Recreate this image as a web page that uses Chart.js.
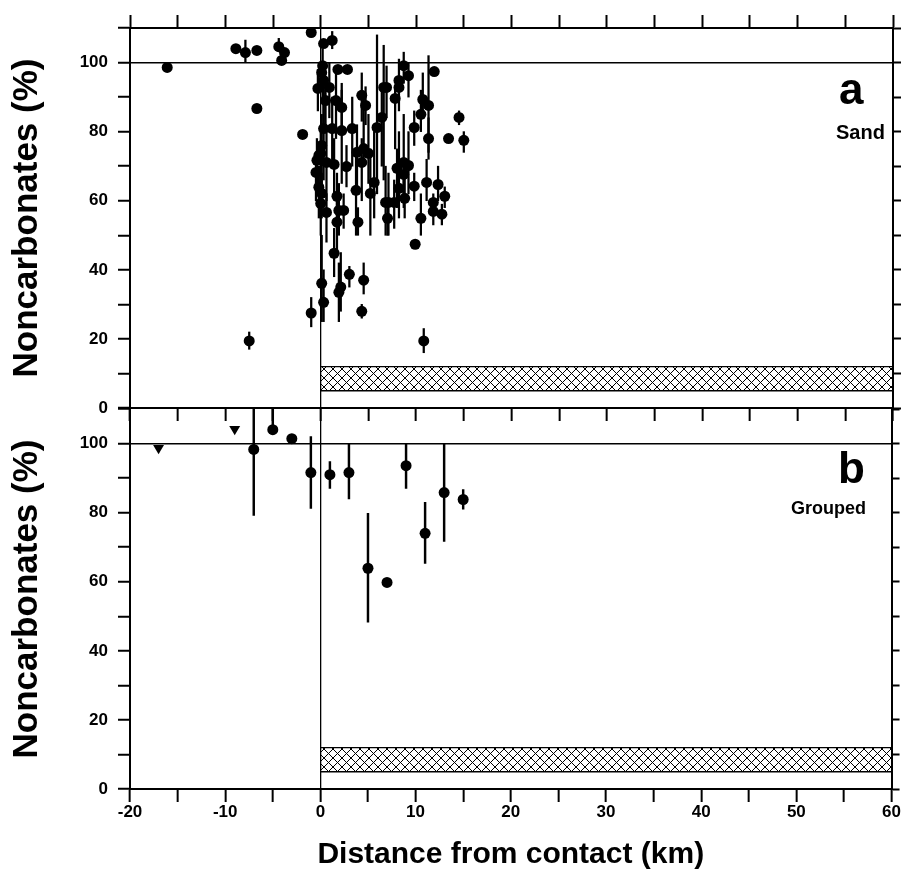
<!DOCTYPE html>
<html lang="en">
<head>
<meta charset="UTF-8">
<title>Noncarbonates vs distance from contact</title>
<script src="https://cdn.jsdelivr.net/npm/chart.js"></script>
<style>
  body { margin: 0; background: #fff; font-family: 'Liberation Sans', Arial, sans-serif; }
  #wrap { position: relative; width: 901px; height: 879px; overflow: hidden; background: #fff; }
  canvas { position: absolute; left: 0; }
  #topChart { top: 0; }
  #bottomChart { top: 380px; }
  .tag { position: absolute; font-weight: bold; line-height: 1; color: #000; white-space: nowrap; }
</style>
</head>
<body>
<div id="wrap">
  <canvas id="topChart" width="901" height="430"></canvas>
  <canvas id="bottomChart" width="901" height="499"></canvas>
  <div class="tag" style="left:839px;top:67px;font-size:44px">a</div>
  <div class="tag" style="left:836px;top:122px;font-size:20px">Sand</div>
  <div class="tag" style="left:838px;top:446px;font-size:44px">b</div>
  <div class="tag" style="left:791px;top:499px;font-size:18px">Grouped</div>
</div>

<script>
// panel a: sand samples (km from contact, % noncarbonates, error bar ends; null = no bar)
const sandKm  = [-16.1, -8.9, -7.9, -6.7, -4.4, -4.1, -3.8, -6.7, -1.9, -7.5,
                 -1.0, -1.0, 0.3, 1.2, 0.2, 0.1, 0.3, -0.3, 0.9, 1.8,
                 2.8, 0.5, 1.6, 2.2, 4.3, 4.7, 6.6, 6.4, 5.9, 8.7,
                 9.2, 8.2, 8.2, 6.9, 11.9, 7.8, 10.7, 11.3, 10.5, 14.5,
                 9.8, 0.3, 1.2, 2.2, 3.3, 0.1, -0.4, 0.6, 1.4, 2.7,
                 -0.5, 3.8, 4.5, 5.0, 4.3, -0.2, 0.1, 1.7, 3.7, 5.6,
                 5.2, 0.0, 0.6, 1.9, 2.4, 1.7, 3.9, 6.8, 11.3, 13.4,
                 15.0, 8.0, 8.7, 9.2, 8.7, 8.2, 9.8, 11.1, 12.3, 13.0,
                 7.1, 7.7, 8.8, 11.8, 11.8, 12.7, 7.0, 10.5, 9.9, 1.4,
                 3.0, 4.5, 2.1, 1.9, 0.1, 0.3, 4.3, 10.8, 0.0, -0.2];
const sandVal = [98.6, 104.0, 102.9, 103.5, 104.6, 100.6, 102.9, 86.7, 79.2, 19.4,
                 27.5, 108.7, 105.5, 106.4, 99.1, 97.1, 94.8, 92.5, 92.8, 98.0,
                 98.0, 89.0, 89.0, 87.0, 90.5, 87.6, 92.8, 84.1, 81.2, 99.1,
                 96.2, 94.8, 92.8, 92.8, 97.4, 89.6, 89.3, 87.6, 85.0, 84.1,
                 81.2, 80.9, 80.9, 80.3, 80.9, 76.0, 71.7, 71.1, 70.5, 69.9,
                 68.2, 74.0, 75.1, 73.7, 71.1, 63.9, 62.1, 61.3, 63.0, 65.3,
                 62.1, 59.2, 56.6, 57.2, 57.2, 53.8, 53.8, 59.5, 78.0, 78.0,
                 77.5, 69.4, 71.1, 70.2, 67.6, 63.6, 64.2, 65.3, 64.7, 61.3,
                 59.5, 59.5, 60.7, 59.5, 56.9, 56.1, 54.9, 54.9, 47.4, 44.8,
                 38.7, 37.0, 35.0, 33.5, 36.1, 30.6, 28.0, 19.4, 73.7, 73.1];
const sandLo  = [null, null, 100, null, 104.6, null, null, null, null, 17,
                 23.5, null, null, 104, 90, null, 80, 86, 84, null,
                 null, 82, 78, 80, 83, 82, 66, 70, 62, 94,
                 90, 86, null, 84, null, 75, 84, 74, 80, 82,
                 76, 66, 70, 65, 70, 65, 64, 60, 62, 64,
                 60, 62, 70, 65, 60, 55, 55, 55, 50, 55,
                 50, 50, 48, 50, 52, 45, 50, 50, 72, null,
                 74, 58, 60, 62, 58, 55, 60, 60, 60, 58,
                 50, 52, 55, 56, 53, 53, 50, 50, null, 38,
                 35, 33, 28, 25, 25, 25, 26, 16, 55, null];
const sandHi  = [null, null, 106.5, null, 107, null, null, null, null, 22,
                 32, null, null, 109, 104, null, 100, 98, 100, null,
                 null, 96, 98, 94, 97, 93, 105, 92, 108, 103,
                 100, 101, null, 99, null, 93, 97, 102, 92, 86,
                 86, 92, 90, 92, 90, 85, 78, 80, 78, 76,
                 74, 82, 90, 85, 78, 70, 68, 68, 75, 80,
                 75, 70, 62, 65, 62, 60, 58, 70, 84, null,
                 80, 75, 85, 80, 72, 80, 68, 72, 70, 64,
                 68, 66, 70, 62, 60, 59, 60, 62, null, 52,
                 41, 42, 45, 42, 50, 40, 30, 23, 80, null];

// panel b: grouped means
const groupKm  = [-7, -5, -3, -1, 1, 3, 5, 7, 9, 11, 13, 15];
const groupVal = [98.3, 104, 101.4, 91.6, 91, 91.6, 63.9, 59.8, 93.6, 74, 85.8, 83.8];
const groupLo  = [79.2, 104, null, 81.2, 87, 84, 48.3, null, 87, 65.3, 71.7, 81];
const groupHi  = [110, 110, null, 102, 94.8, 100, 79.8, null, 100, 83, 100, 86.7];
const triKm  = [-17, -9];
const triVal = [98.7, 104.2];

// hatched band
const bandX = [0, 60];
const bandTop = 12;
const bandBottom = 5;

const xMin = -20, xMax = 60, yMin = 0, yMax = 110;

Chart.defaults.font.family = "'Liberation Sans', Arial, sans-serif";
Chart.defaults.color = '#000';

function hatch() {
    const c = document.createElement('canvas');
    c.width = 9; c.height = 9;
    const g = c.getContext('2d');
    g.strokeStyle = '#000';
    g.lineWidth = 1;
    g.beginPath();
    g.moveTo(0, 0); g.lineTo(9, 9);
    g.moveTo(9, 0); g.lineTo(0, 9);
    g.stroke();
    return g.createPattern(c, 'repeat');
}

function points(xs, ys) {
    return xs.map((x, i) => ({ x: x, y: ys[i] }));
}

function bars(xs, lo, hi) {
    const out = [];
    xs.forEach((x, i) => { if (lo[i] !== null) out.push({ x: x, y: [lo[i], hi[i]] }); });
    return out;
}

function bandSets() {
    return [
        { type: 'line', data: bandX.map(x => ({ x: x, y: bandTop })), showLine: true,
          borderColor: '#000', borderWidth: 1.3, pointRadius: 0, fill: false },
        { type: 'line', data: bandX.map(x => ({ x: x, y: bandBottom })), showLine: true,
          borderColor: '#000', borderWidth: 1.3, pointRadius: 0, fill: '-1', backgroundColor: hatch() }
    ];
}

function makeScales(o) {
    return {
        x: {
            type: 'linear', position: 'bottom', min: xMin, max: xMax, offset: false,
            ticks: { stepSize: 5, autoSkip: false, maxRotation: 0, display: o.xLabels, padding: 0,
                     font: { size: 17, weight: 'bold' }, color: '#000',
                     callback: v => (v % 10 === 0 ? v : '') },
            grid: { offset: false, color: c => (c.tick && c.tick.value === 0 ? '#000' : 'rgba(0,0,0,0)'),
                    lineWidth: 1.3, tickColor: '#000', tickLength: 13, tickWidth: 2 },
            border: { color: '#000', width: 2 },
            title: o.xTitle ? { display: true, text: 'Distance from contact (km)',
                     font: { size: 30, weight: 'bold' }, color: '#000', padding: { top: 0, bottom: 6 } }
                   : { display: false },
            afterFit: a => { a.height = o.xHeight; }
        },
        xTop: {
            type: 'linear', position: 'top', min: xMin, max: xMax, display: o.topTicks, offset: false,
            ticks: { stepSize: 5, display: false },
            grid: { offset: false, drawOnChartArea: false, tickColor: '#000', tickLength: 13, tickWidth: 2 },
            border: { color: '#000', width: 2 },
            afterFit: a => { a.height = o.topTicks ? 28 : 0; }
        },
        y: {
            type: 'linear', position: 'left', min: yMin, max: yMax,
            ticks: { stepSize: 10, padding: 10, font: { size: 17, weight: 'bold' }, color: '#000',
                     callback: v => (v % 20 === 0 && v <= 100 ? v : '') },
            grid: { color: c => (c.tick && c.tick.value === 100 ? '#000' : 'rgba(0,0,0,0)'),
                    lineWidth: 1.5, tickColor: '#000', tickLength: 12, tickWidth: 2 },
            border: { color: '#000', width: 2 },
            title: { display: true, text: 'Noncarbonates (%)', font: { size: 35, weight: 'bold' },
                     color: '#000', padding: { top: 6, bottom: 0 } },
            afterFit: a => { a.width = 130; }
        },
        yRight: {
            type: 'linear', position: 'right', min: yMin, max: yMax,
            ticks: { stepSize: 10, display: false },
            grid: { drawOnChartArea: false, tickColor: '#000', tickLength: 8, tickWidth: 2 },
            border: { color: '#000', width: 2 },
            afterFit: a => { a.width = 8; }
        }
    };
}

const common = {
    responsive: false,
    animation: false,
    events: [],
    plugins: { legend: { display: false }, tooltip: { enabled: false } }
};

new Chart(document.getElementById('topChart'), {
    type: 'scatter',
    data: {
        datasets: [
            { data: points(sandKm, sandVal), pointRadius: 5.5, pointBorderWidth: 0,
              backgroundColor: '#000', borderColor: '#000' },
            { type: 'bar', data: bars(sandKm, sandLo, sandHi), barThickness: 1.6,
              grouped: false, backgroundColor: '#000' },
            ...bandSets()
        ]
    },
    options: Object.assign({}, common, {
        layout: { autoPadding: false, padding: 0 },
        scales: makeScales({ xLabels: false, xTitle: false, xHeight: 22, topTicks: true })
    })
});

new Chart(document.getElementById('bottomChart'), {
    type: 'scatter',
    data: {
        datasets: [
            { data: points(groupKm, groupVal), pointRadius: 5.5, pointBorderWidth: 0,
              backgroundColor: '#000', borderColor: '#000' },
            { data: points(triKm, triVal), pointStyle: 'triangle', rotation: 180, pointRadius: 6.3,
              pointBorderWidth: 0, backgroundColor: '#000', borderColor: '#000' },
            { type: 'bar', data: bars(groupKm, groupLo, groupHi), barThickness: 1.8,
              grouped: false, backgroundColor: '#000' },
            ...bandSets()
        ]
    },
    options: Object.assign({}, common, {
        layout: { autoPadding: false, padding: { top: 29, left: 0, right: 0, bottom: 0 } },
        scales: makeScales({ xLabels: true, xTitle: true, xHeight: 90, topTicks: false })
    })
});
</script>
</body>
</html>
